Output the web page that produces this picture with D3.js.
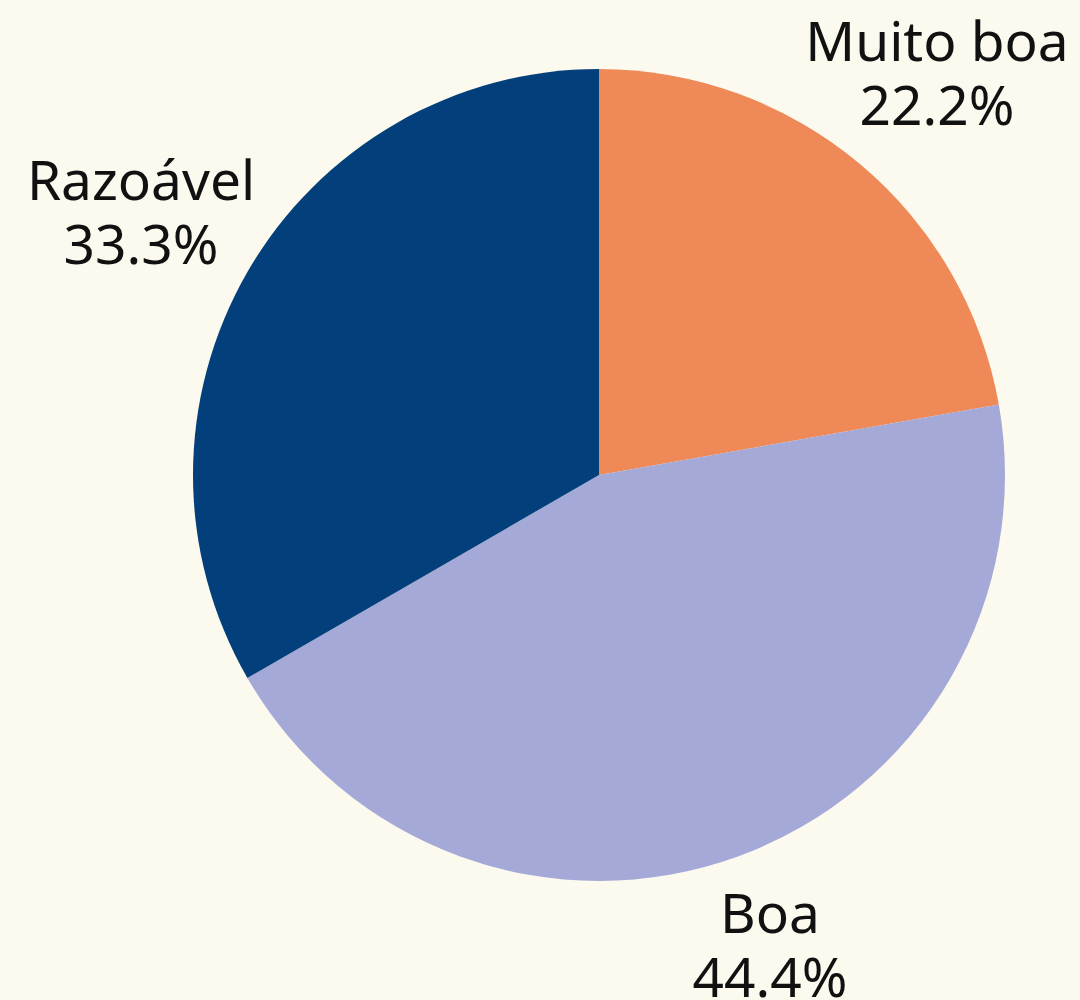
<!DOCTYPE html>
<html>
<head>
<meta charset="utf-8">
<script src="https://cdn.jsdelivr.net/npm/d3@7"></script>
<style>
  html, body { margin:0; padding:0; background:#FCF9EF; }
  svg { display:block; }
  text { font-family:"Noto Sans","Open Sans",sans-serif; fill:#111; }
</style>
</head>
<body>
<svg id="chart" width="1080" height="1000"></svg>
<script>
"use strict";

// ---- data (share of answers, %)
const categories = ["Muito boa", "Boa", "Razoável"];
const values = [22.2, 44.4, 33.3];
const colors = ["#EF8957", "#A5A9D7", "#03407B"];

// label anchor points (x, baseline of first line)
const labelPos = [[937, 61], [770, 933], [141, 200]];

const svg = d3.select("#chart");
const cx = 599, cy = 475, R = 406;

const g = svg.append("g").attr("transform", `translate(${cx},${cy})`);

const pie = d3.pie().sort(null).value(d => d);
const arc = d3.arc().innerRadius(0).outerRadius(R);

g.selectAll("path").data(pie(values)).enter().append("path")
  .attr("d", arc)
  .attr("fill", (d, i) => colors[i]);

// ---- labels
categories.forEach((c, i) => {
  const t = svg.append("text")
    .attr("text-anchor", "middle")
    .style("font-size", "55px");
  t.append("tspan").attr("x", labelPos[i][0]).attr("y", labelPos[i][1]).text(c);
  t.append("tspan").attr("x", labelPos[i][0]).attr("y", labelPos[i][1] + 64)
    .text(values[i].toFixed(1) + "%");
});
</script>
</body>
</html>
